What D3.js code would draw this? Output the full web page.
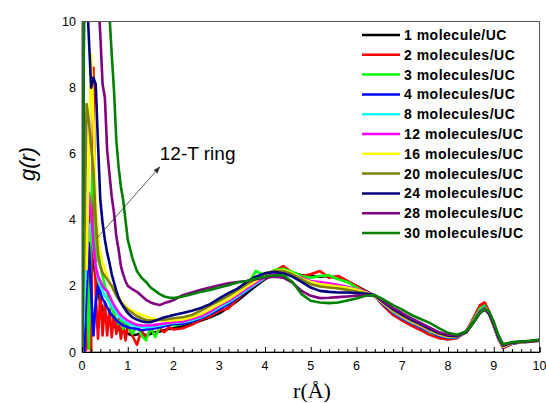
<!DOCTYPE html>
<html lang="en">
  <head>
    <meta charset="utf-8">
    <title>g(r) 12-T ring</title>
    <script src="https://d3js.org/d3.v7.js"></script>
    <style>
      body { margin: 0; background: white; }
      text { font-family: "Liberation Sans", Arial, sans-serif; }
    </style>
  </head>
  <body>
    <script type="text/javascript">

      // r values (Angstrom) shared by all series
      const rValues = [0, 0.05, 0.1, 0.15, 0.2, 0.25, 0.3, 0.35, 0.4, 0.45, 0.5, 0.55, 0.6, 0.65, 0.7, 0.75, 0.8, 0.85, 0.9, 0.95, 1.0,
        1.1, 1.2, 1.3, 1.4, 1.5, 1.6, 1.7, 1.8, 1.9, 2.0,
        2.2, 2.4, 2.6, 2.8, 3.0, 3.2, 3.4, 3.6, 3.8, 4.0, 4.2, 4.4, 4.6, 4.8, 5.0, 5.2, 5.4, 5.6, 5.8, 6.0,
        6.2, 6.4, 6.6, 6.8, 7.0, 7.2, 7.4, 7.6, 7.8, 8.0, 8.2, 8.4,
        8.5, 8.6, 8.7, 8.8, 8.9, 9.0, 9.1, 9.2, 9.3, 9.4, 9.6, 9.8, 10.0];

      const g1 = [0, 0, 3.0, 4.5, 3.5, 2.8, 2.2, 1.8, 1.5, 1.3, 1.15, 1.0, 0.9, 0.82, 0.76, 0.72, 0.68, 0.64, 0.62, 0.58, 0.56,
        0.5, 0.53, 0.57, 0.5, 0.55, 0.6, 0.62, 0.66, 0.7, 0.72,
        0.78, 0.85, 0.95, 1.05, 1.17, 1.35, 1.55, 1.78, 2.0, 2.2, 2.38, 2.45, 2.4, 2.32, 2.3, 2.28, 2.3, 2.22, 2.12, 2.0,
        1.85, 1.7, 1.42, 1.18, 0.98, 0.85, 0.72, 0.58, 0.48, 0.42, 0.44, 0.62,
        0.85, 1.12, 1.4, 1.48, 1.2, 0.8, 0.42, 0.15, 0.2, 0.26, 0.3, 0.32, 0.35];
      const g2 = [0, 0, 0.1, 2.5, 0, 8.6, 1.7, 0.4, 1.8, 0.5, 1.5, 0.5, 1.3, 0.45, 1.2, 0.55, 1.0, 0.4, 0.9, 0.35, 0.8,
        0.5, 0.22, 0.65, 0.42, 0.7, 0.52, 0.72, 0.6, 0.75, 0.68,
        0.72, 0.82, 0.98, 1.08, 1.25, 1.32, 1.6, 1.85, 2.05, 2.22, 2.45, 2.6, 2.4, 2.3, 2.35, 2.45, 2.25, 2.3, 2.15, 2.0,
        1.82, 1.68, 1.38, 1.12, 0.95, 0.8, 0.66, 0.52, 0.42, 0.38, 0.42, 0.63,
        0.88, 1.15, 1.42, 1.5, 1.22, 0.8, 0.4, 0.12, 0.18, 0.25, 0.3, 0.33, 0.36];
      const g3 = [0, 0.3, 2.5, 0.1, 4.5, 5.8, 3.2, 2.8, 2.6, 2.3, 2.0, 1.8, 1.5, 1.32, 1.15, 1.0, 0.85, 0.98, 0.7, 0.88, 0.8,
        0.55, 0.82, 0.5, 0.35, 0.75, 0.45, 0.75, 0.8, 0.88, 0.8,
        0.85, 0.92, 1.05, 1.2, 1.35, 1.5, 1.7, 1.98, 2.45, 2.32, 2.48, 2.52, 2.42, 2.3, 2.25, 2.3, 2.32, 2.2, 2.12, 1.95,
        1.8, 1.68, 1.45, 1.2, 1.02, 0.88, 0.75, 0.6, 0.5, 0.44, 0.45, 0.62,
        0.84, 1.08, 1.32, 1.4, 1.18, 0.8, 0.42, 0.16, 0.22, 0.27, 0.3, 0.33, 0.36];
      const g4 = [0, 0, 2.0, 3.3, 1.8, 0.5, 1.5, 2.0, 1.8, 1.6, 1.5, 1.35, 1.22, 1.12, 1.05, 0.96, 0.9, 0.85, 0.8, 0.78, 0.75,
        0.72, 0.7, 0.66, 0.68, 0.7, 0.72, 0.75, 0.78, 0.82, 0.85,
        0.85, 0.92, 1.02, 1.15, 1.3, 1.45, 1.65, 1.85, 2.05, 2.25, 2.38, 2.4, 2.32, 2.22, 2.12, 2.08, 2.05, 2.0, 1.95, 1.88,
        1.8, 1.68, 1.42, 1.2, 1.02, 0.88, 0.75, 0.62, 0.5, 0.43, 0.44, 0.6,
        0.8, 1.02, 1.25, 1.35, 1.15, 0.78, 0.4, 0.14, 0.2, 0.26, 0.29, 0.31, 0.34];
      const g8 = [0, 1.5, 3.0, 3.8, 3.9, 3.2, 2.6, 2.2, 2.0, 1.85, 1.7, 1.6, 1.5, 1.4, 1.3, 1.2, 1.1, 1.02, 0.96, 0.92, 0.88,
        0.82, 0.78, 0.76, 0.75, 0.76, 0.78, 0.8, 0.83, 0.86, 0.88,
        0.9, 0.96, 1.05, 1.18, 1.35, 1.5, 1.68, 1.88, 2.06, 2.25, 2.36, 2.38, 2.3, 2.2, 2.1, 2.05, 2.05, 2.02, 1.97, 1.9,
        1.8, 1.68, 1.45, 1.22, 1.04, 0.9, 0.77, 0.63, 0.52, 0.45, 0.45, 0.6,
        0.8, 1.02, 1.25, 1.34, 1.15, 0.8, 0.42, 0.16, 0.22, 0.27, 0.3, 0.32, 0.35];
      const g12 = [0, 3.2, 2.5, 4.8, 4.2, 3.3, 2.6, 2.3, 2.15, 2.0, 1.9, 1.85, 1.7, 1.55, 1.42, 1.3, 1.2, 1.12, 1.05, 1.0, 0.95,
        0.88, 0.82, 0.8, 0.8, 0.8, 0.82, 0.84, 0.86, 0.88, 0.9,
        0.92, 1.0, 1.08, 1.22, 1.4, 1.55, 1.72, 1.92, 2.1, 2.28, 2.4, 2.42, 2.35, 2.25, 2.15, 2.12, 2.08, 2.03, 1.97, 1.9,
        1.82, 1.7, 1.46, 1.24, 1.06, 0.92, 0.78, 0.65, 0.53, 0.46, 0.46, 0.6,
        0.8, 1.0, 1.24, 1.34, 1.15, 0.8, 0.42, 0.16, 0.22, 0.27, 0.3, 0.32, 0.35];
      const g16 = [0, 4.0, 2.5, 6.0, 9.0, 7.0, 4.5, 3.5, 3.0, 2.7, 2.5, 2.3, 2.1, 1.95, 1.85, 1.75, 1.65, 1.55, 1.46, 1.38, 1.33,
        1.25, 1.18, 1.12, 1.08, 1.03, 1.0, 0.97, 0.95, 0.95, 0.96,
        0.98, 1.05, 1.15, 1.3, 1.45, 1.6, 1.78, 1.98, 2.15, 2.35, 2.45, 2.48, 2.38, 2.22, 2.12, 2.06, 2.02, 1.98, 1.94, 1.88,
        1.8, 1.68, 1.46, 1.25, 1.08, 0.93, 0.8, 0.66, 0.54, 0.46, 0.46, 0.6,
        0.8, 1.0, 1.22, 1.32, 1.14, 0.8, 0.42, 0.16, 0.22, 0.27, 0.3, 0.32, 0.35];
      const g20 = [0, 3.0, 7.5, 7.0, 6.2, 5.5, 4.0, 3.0, 2.6, 2.4, 2.3, 2.2, 2.1, 2.0, 1.85, 1.7, 1.6, 1.5, 1.42, 1.35, 1.28,
        1.18, 1.08, 1.02, 0.97, 0.95, 0.96, 0.97, 0.98, 1.0, 1.02,
        1.05, 1.12, 1.25, 1.4, 1.55, 1.7, 1.88, 2.05, 2.22, 2.38, 2.45, 2.45, 2.35, 2.2, 2.05, 1.98, 1.95, 1.92, 1.88, 1.83,
        1.78, 1.7, 1.48, 1.27, 1.1, 0.95, 0.82, 0.68, 0.56, 0.48, 0.47, 0.6,
        0.8, 1.0, 1.22, 1.32, 1.15, 0.82, 0.44, 0.18, 0.23, 0.28, 0.3, 0.32, 0.35];
      const g24 = [0, 12, 11, 9.5, 8.0, 8.3, 8.1, 6.3, 4.6, 3.9, 3.4, 3.0, 2.7, 2.35, 2.1, 1.85, 1.65, 1.5, 1.38, 1.28, 1.18,
        1.05, 0.98, 0.93, 0.9, 0.9, 0.95, 1.0, 1.05, 1.08, 1.12,
        1.18, 1.25, 1.33, 1.45, 1.62, 1.78, 1.92, 2.12, 2.28, 2.38, 2.42, 2.38, 2.28, 2.12, 1.95, 1.85, 1.82, 1.8, 1.8, 1.78,
        1.76, 1.72, 1.5, 1.3, 1.14, 0.98, 0.85, 0.7, 0.58, 0.5, 0.48, 0.6,
        0.78, 0.98, 1.2, 1.3, 1.15, 0.84, 0.46, 0.2, 0.24, 0.28, 0.31, 0.33, 0.36];
      const g28 = [0, 12, 12, 12, 12, 12, 12, 10.8, 9.6, 8.1, 7.7, 6.1, 5.4, 4.7, 4.2, 3.5, 3.1, 2.6, 2.35, 2.15, 2.0,
        1.9, 1.82, 1.7, 1.58, 1.5, 1.45, 1.42, 1.48, 1.52, 1.57,
        1.72, 1.8, 1.88, 1.95, 2.02, 2.08, 2.12, 2.15, 2.2, 2.25, 2.28, 2.25, 2.1, 1.85, 1.7, 1.63, 1.64, 1.66, 1.68, 1.7,
        1.72, 1.7, 1.52, 1.33, 1.18, 1.02, 0.88, 0.74, 0.6, 0.52, 0.5, 0.62,
        0.8, 0.98, 1.18, 1.28, 1.18, 0.88, 0.5, 0.22, 0.25, 0.29, 0.31, 0.33, 0.36];
      const g30 = [0, 12, 12, 12, 12, 12, 12, 12, 12, 12, 12, 11.5, 10.2, 9.0, 7.9, 6.4, 5.6, 5.0, 4.6, 4.0, 3.4,
        2.85, 2.45, 2.25, 2.12, 1.95, 1.85, 1.75, 1.68, 1.65, 1.63,
        1.68, 1.75, 1.82, 1.88, 1.95, 2.02, 2.1, 2.15, 2.22, 2.28, 2.32, 2.32, 2.12, 1.75, 1.55, 1.5, 1.48, 1.5, 1.56, 1.62,
        1.7, 1.72, 1.58, 1.42, 1.28, 1.12, 1.0, 0.88, 0.72, 0.58, 0.52, 0.62,
        0.78, 0.98, 1.18, 1.3, 1.22, 0.92, 0.52, 0.24, 0.26, 0.3, 0.32, 0.34, 0.37];

      const seriesNames = ["1 molecule/UC", "2 molecules/UC", "3 molecules/UC", "4 molecules/UC", "8 molecules/UC",
        "12 molecules/UC", "16 molecules/UC", "20 molecules/UC", "24 molecules/UC", "28 molecules/UC", "30 molecules/UC"];
      const seriesValues = [g1, g2, g3, g4, g8, g12, g16, g20, g24, g28, g30];
      const seriesColors = ["#000000", "#ff0000", "#00ff00", "#0000ff", "#00ffff", "#ff00ff",
        "#ffff00", "#808000", "#000080", "#800080", "#008000"];

      const xTicks = [0, 1, 2, 3, 4, 5, 6, 7, 8, 9, 10];
      const yTicks = [0, 2, 4, 6, 8, 10];

      // size and margins
      const w = 546;
      const h = 403;
      const margin = {top: 21.5, right: 6.5, bottom: 51, left: 82};
      const innerWidth = w - margin.left - margin.right;
      const innerHeight = h - margin.top - margin.bottom;

      const xScale = d3.scaleLinear().domain([0, 10]).range([0, innerWidth]);
      const yScale = d3.scaleLinear().domain([0, 10]).range([innerHeight, 0]);

      const svg = d3.select("body")
        .append("svg")
        .attr("width", w)
        .attr("height", h);

      svg.append("defs")
        .append("clipPath")
        .attr("id", "clip")
        .append("rect")
        .attr("width", innerWidth)
        .attr("height", innerHeight);

      svg.select("defs")
        .append("marker")
        .attr("id", "head")
        .attr("viewBox", "0 0 10 10")
        .attr("refX", 9)
        .attr("refY", 5)
        .attr("markerWidth", 9)
        .attr("markerHeight", 9)
        .attr("orient", "auto")
        .append("path")
        .attr("d", "M0,1.5 L10,5 L0,8.5 Z")
        .attr("fill", "#333");

      const plot = svg.append("g")
        .attr("id", "plot")
        .attr("transform", `translate(${margin.left}, ${margin.top})`);

      // curves
      const line = d3.line()
        .x(d => xScale(d[0]))
        .y(d => yScale(d[1]));

      plot.append("g")
        .attr("clip-path", "url(#clip)")
        .selectAll("path")
        .data(seriesValues)
        .enter()
        .append("path")
        .attr("d", vals => line(d3.zip(rValues, vals)))
        .attr("fill", "none")
        .attr("stroke", (d, i) => seriesColors[i])
        .attr("stroke-width", 2.6)
        .attr("stroke-linejoin", "round");

      // frame
      plot.append("rect")
        .attr("width", innerWidth)
        .attr("height", innerHeight)
        .attr("fill", "none")
        .attr("stroke", "#555")
        .attr("stroke-width", 1);

      // x axis, ticks pointing inward
      const xAxis = d3.axisTop(xScale)
        .tickValues(xTicks)
        .tickSize(5)
        .tickFormat("");
      plot.append("g")
        .attr("transform", `translate(0, ${innerHeight})`)
        .call(xAxis)
        .call(g => g.select(".domain").attr("stroke", "#000"))
        .call(g => g.selectAll("text").remove());

      const xMinor = d3.axisTop(xScale)
        .tickValues(d3.range(0, 10.01, 0.2).filter(v => Math.abs(v - Math.round(v)) > 0.01))
        .tickSize(3)
        .tickFormat("");
      plot.append("g")
        .attr("transform", `translate(0, ${innerHeight})`)
        .call(xMinor)
        .call(g => g.select(".domain").remove())
        .call(g => g.selectAll("text").remove());

      plot.selectAll(".xlab")
        .data(xTicks)
        .enter()
        .append("text")
        .attr("x", d => xScale(d))
        .attr("y", innerHeight + 18)
        .attr("text-anchor", "middle")
        .attr("font-size", 12.5)
        .text(d => d);

      plot.selectAll(".ylab")
        .data(yTicks)
        .enter()
        .append("text")
        .attr("x", -6)
        .attr("y", d => yScale(d) + 4.5)
        .attr("text-anchor", "end")
        .attr("font-size", 12.5)
        .text(d => d);

      // axis titles
      svg.append("text")
        .attr("transform", "translate(35, 164) rotate(-90)")
        .attr("text-anchor", "middle")
        .attr("font-size", 22)
        .attr("font-style", "italic")
        .text("g(r)");

      svg.append("text")
        .attr("x", 312)
        .attr("y", 398)
        .attr("text-anchor", "middle")
        .attr("font-size", 22)
        .style("font-family", "'Liberation Serif', 'Times New Roman', serif")
        .text("r(Å)");

      // annotation
      plot.append("line")
        .attr("x1", xScale(0.33))
        .attr("y1", yScale(3.45))
        .attr("x2", xScale(1.7))
        .attr("y2", yScale(5.6))
        .attr("stroke", "#333")
        .attr("stroke-width", 0.8)
        .attr("marker-end", "url(#head)");

      plot.append("text")
        .attr("x", xScale(1.7))
        .attr("y", yScale(5.8))
        .attr("font-size", 19)
        .text("12-T ring");

      // legend
      const legend = svg.append("g")
        .attr("transform", "translate(362, 35)");

      const rows = legend.selectAll("g")
        .data(seriesNames)
        .enter()
        .append("g")
        .attr("transform", (d, i) => `translate(0, ${i * 19.8})`);

      rows.append("line")
        .attr("x1", 0)
        .attr("x2", 38)
        .attr("stroke", (d, i) => seriesColors[i])
        .attr("stroke-width", 2.5);

      rows.append("text")
        .attr("x", 42)
        .attr("y", 5)
        .attr("font-size", 14)
        .attr("font-weight", "bold")
        .attr("letter-spacing", 0.5)
        .text(d => d);

    </script>
  </body>
</html>
